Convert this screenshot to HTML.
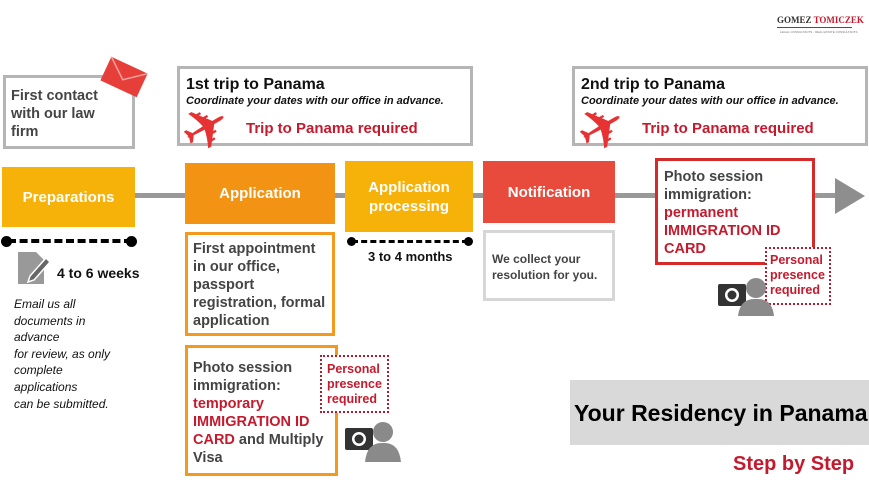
<!DOCTYPE html>
<html><head><meta charset="utf-8"><style>
body{margin:0;width:869px;height:489px;background:#fff;position:relative;overflow:hidden;font-family:"Liberation Sans",sans-serif}
.a{position:absolute;box-sizing:border-box}
.g{border:3px solid #b5b5b5}
.b{font-weight:bold}
.box{color:#fff;font-weight:bold;font-size:15px;display:flex;align-items:center;justify-content:center;text-align:center;line-height:19px}
.t{color:#444;font-weight:bold;font-size:14px;line-height:18px}
.r{color:#c41a2e}
.dot{position:absolute;width:11px;height:11px;border-radius:50%;background:#000}
</style></head><body>
<div class="a" style="left:777px;top:15px;font-family:'Liberation Serif',serif;font-size:9px;font-weight:bold;color:#333">GOMEZ <span class="r">TOMICZEK</span></div>
<div class="a" style="left:777px;top:27px;width:75px;height:1px;background:#c41a2e"></div>
<div class="a" style="left:780px;top:30px;font-size:3px;color:#777">LEGAL CONSULTANTS · REAL ESTATE CONSULTANTS</div>

<div class="a" style="left:130px;top:193px;width:710px;height:5px;background:#999"></div>
<svg class="a" style="left:833px;top:176px" width="34" height="40"><polygon points="2,2 32,20 2,38" fill="#8e8e8e"/></svg>

<div class="a g" style="left:3px;top:75px;width:132px;height:74px"></div>
<div class="a t" style="left:11px;top:87px;font-size:14.5px">First contact<br>with our law<br>firm</div>
<svg class="a" style="left:98px;top:56px" width="52" height="42"><g transform="rotate(25 26 21)"><rect x="6" y="8" width="40" height="26" fill="#e63f3a"/><polyline points="6,8 26,24 46,8" fill="none" stroke="#f6a09b" stroke-width="1.5"/></g></svg>

<div class="a g" style="left:177px;top:66px;width:296px;height:80px"></div>
<div class="a b" style="left:186px;top:76px;font-size:16px;color:#111">1st trip to Panama</div>
<div class="a b" style="left:186px;top:95px;font-size:11px;font-style:italic;color:#111">Coordinate your dates with our office in advance.</div>
<div class="a b r" style="left:246px;top:120px;font-size:15px">Trip to Panama required</div>
<div class="a" style="left:182px;top:100px;font-size:58px;line-height:58px;transform:rotate(-30deg);color:#e63232">✈</div>

<div class="a g" style="left:572px;top:66px;width:296px;height:80px"></div>
<div class="a b" style="left:581px;top:76px;font-size:16px;color:#111">2nd trip to Panama</div>
<div class="a b" style="left:581px;top:95px;font-size:11px;font-style:italic;color:#111">Coordinate your dates with our office in advance.</div>
<div class="a b r" style="left:642px;top:120px;font-size:15px">Trip to Panama required</div>
<div class="a" style="left:578px;top:100px;font-size:58px;line-height:58px;transform:rotate(-30deg);color:#e63232">✈</div>

<div class="a box" style="left:2px;top:167px;width:133px;height:60px;background:#f7b20a">Preparations</div>
<div class="a box" style="left:185px;top:163px;width:150px;height:61px;background:#f39313">Application</div>
<div class="a box" style="left:345px;top:161px;width:128px;height:71px;background:#f7b20a">Application<br>processing</div>
<div class="a box" style="left:483px;top:161px;width:132px;height:62px;background:#e84b3c">Notification</div>

<div class="a" style="left:655px;top:158px;width:160px;height:107px;border:3px solid #d32a2a;background:#fff"></div>
<div class="a t" style="left:664px;top:168px;font-size:14.5px">Photo session<br>immigration:<br><span class="r">permanent<br>IMMIGRATION ID<br>CARD</span></div>
<div class="a" style="left:765px;top:247px;width:66px;height:58px;border:2px dotted #b01c2e;background:#fff"></div>
<div class="a b r" style="left:770px;top:253px;font-size:12.5px;line-height:15px">Personal<br>presence<br>required</div>
<svg class="a" style="left:716px;top:272px" width="60" height="46"><rect x="2" y="12" width="28" height="22" rx="2" fill="#333"/><circle cx="16" cy="23" r="7" fill="#fff"/><circle cx="16" cy="23" r="4.5" fill="#333"/><circle cx="40" cy="16" r="10" fill="#8a8a8a"/><path d="M22 44 Q24 26 40 27 Q56 26 58 44Z" fill="#8a8a8a"/></svg>

<div class="a" style="left:8px;top:239px;width:124px;border-top:4px dashed #000"></div>
<div class="dot" style="left:1px;top:236px"></div><div class="dot" style="left:126px;top:236px"></div>
<svg class="a" style="left:16px;top:250px" width="36" height="36"><path d="M2 2 H20 L28 10 V34 H2Z" fill="#999"/><path d="M14 26 L30 8 L34 12 L18 30 L12 32Z" fill="#666" stroke="#fff" stroke-width="1.5"/></svg>
<div class="a b" style="left:57px;top:265px;font-size:14px;color:#111">4 to 6 weeks</div>
<div class="a" style="left:14px;top:296px;font-size:12px;font-style:italic;line-height:16.6px;color:#111">Email us all<br>documents in<br>advance<br>for review, as only<br>complete<br>applications<br>can be submitted.</div>

<div class="a" style="left:352px;top:240px;width:116px;border-top:3px dashed #000"></div>
<div class="dot" style="left:347px;top:237px;width:9px;height:9px"></div><div class="dot" style="left:464px;top:237px;width:9px;height:9px"></div>
<div class="a b" style="left:368px;top:249px;font-size:13px;color:#111">3 to 4 months</div>

<div class="a" style="left:483px;top:230px;width:132px;height:71px;border:3px solid #d6d6d6"></div>
<div class="a t" style="left:492px;top:251px;font-size:12px;line-height:16px">We collect your<br>resolution for you.</div>

<div class="a" style="left:185px;top:232px;width:150px;height:104px;border:3px solid #f39a1e"></div>
<div class="a t" style="left:193px;top:240px;font-size:14.5px">First appointment<br>in our office,<br>passport<br>registration, formal<br>application</div>

<div class="a" style="left:185px;top:345px;width:153px;height:131px;border:3px solid #f39a1e"></div>
<div class="a t" style="left:193px;top:359px;font-size:14.5px">Photo session<br>immigration:<br><span class="r">temporary<br>IMMIGRATION ID<br>CARD</span> and Multiply<br>Visa</div>
<div class="a" style="left:320px;top:355px;width:69px;height:58px;border:2px dotted #b01c2e;background:#fff"></div>
<div class="a b r" style="left:327px;top:362px;font-size:12.5px;line-height:15px">Personal<br>presence<br>required</div>
<svg class="a" style="left:343px;top:418px" width="60" height="46"><rect x="2" y="10" width="28" height="22" rx="2" fill="#333"/><circle cx="16" cy="21" r="7" fill="#fff"/><circle cx="16" cy="21" r="4.5" fill="#333"/><circle cx="40" cy="14" r="10" fill="#8a8a8a"/><path d="M22 44 Q24 24 40 25 Q56 24 58 44Z" fill="#8a8a8a"/></svg>

<div class="a" style="left:570px;top:380px;width:299px;height:65px;background:#d9d9d9"></div>
<div class="a b" style="left:574px;top:400px;font-size:23px;color:#000;white-space:nowrap">Your Residency in Panama</div>
<div class="a b r" style="left:733px;top:453px;font-size:20px">Step by Step</div>
</body></html>
